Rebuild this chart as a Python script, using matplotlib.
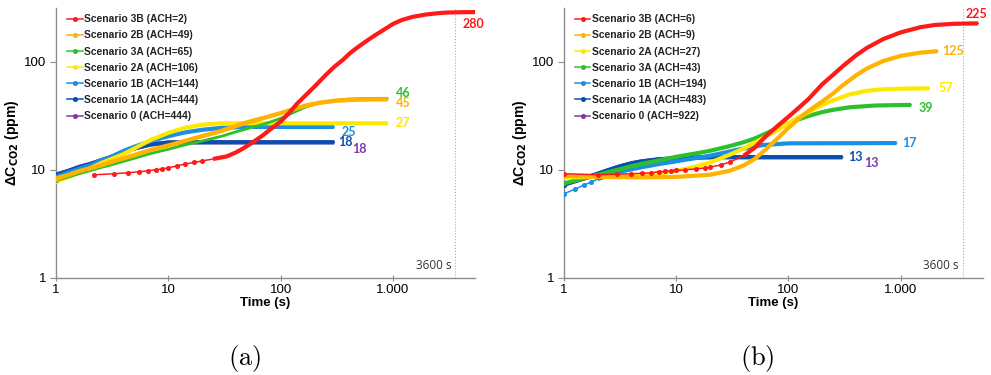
import matplotlib
matplotlib.use("Agg")
import matplotlib.pyplot as plt
import numpy as np

plt.rcParams['font.family'] = ['Liberation Sans', 'DejaVu Sans']

# ---------------- panel (a) ----------------
names_a = ["Scenario 3B (ACH=2)", "Scenario 2B (ACH=49)", "Scenario 3A (ACH=65)",
           "Scenario 2A (ACH=106)", "Scenario 1B (ACH=144)", "Scenario 1A (ACH=444)",
           "Scenario 0 (ACH=444)"]

t_3b_a = [2.2, 3.3, 4.4, 5.5, 6.6, 7.7, 8.8, 9.9, 12, 14, 17, 20, 25, 33, 40, 45, 52, 61, 70, 80,
          100, 120, 140, 170, 200, 250, 300, 360, 420, 500, 600, 700, 850, 1000, 1200, 1500,
          2000, 2500, 3000, 4000, 5400]
c_3b_a = [9.0, 9.2, 9.4, 9.6, 9.8, 10.0, 10.2, 10.4, 10.9, 11.3, 11.7, 12.1, 12.6, 13.3, 14.5,
          15.5, 17, 19, 21, 23.5, 28, 34, 41, 50, 59, 75, 90, 105, 122, 140, 160, 178, 202, 225,
          245, 262, 276, 283, 287, 289, 290]

t_2b_a = [1, 1.3, 1.6, 2, 2.5, 3, 4, 5, 7, 10, 14, 20, 30, 40, 50, 75, 100, 130, 170, 220, 300,
          400, 550, 700, 900]
c_2b_a = [8.3, 9.0, 9.7, 10.3, 11.0, 11.7, 12.8, 13.7, 15.3, 16.8, 18.5, 20.5, 23, 25.5, 27.5,
          30.8, 33.5, 36.5, 39.5, 41.8, 43.6, 44.5, 44.9, 45, 45]

t_3a_a = [1, 1.3, 1.6, 2, 2.5, 3, 4, 5, 7, 10, 14, 20, 30, 40, 50, 75, 100, 130, 170, 220, 300,
          400, 550, 700, 900]
c_3a_a = [8.0, 8.6, 9.2, 9.8, 10.5, 11.0, 12.0, 12.8, 14.2, 15.5, 17, 18.5, 20.5, 22.5, 24, 27,
          30, 34, 38.5, 41.5, 44, 45.2, 45.8, 46, 46]

t_2a_a = [1, 1.3, 1.6, 2, 2.5, 3, 4, 5, 7, 10, 14, 20, 30, 50, 100, 300, 900]
c_2a_a = [7.8, 8.6, 9.4, 10.3, 11.5, 12.4, 14, 15.8, 19.0, 22, 24.5, 26.2, 27, 27, 27, 27, 27]

t_1b_a = [1, 1.3, 1.6, 2, 2.5, 3, 4, 5, 7, 10, 14, 20, 30, 50, 100, 300]
c_1b_a = [8.6, 9.5, 10.2, 11, 12.2, 13, 15, 16.4, 18.5, 20.5, 22.2, 23.5, 24.5, 25, 25, 25]

t_1a_a = [1, 1.3, 1.6, 2, 2.5, 3, 4, 5, 7, 10, 14, 20, 50, 100, 300]
c_1a_a = [9.0, 9.8, 10.6, 11.3, 12.2, 13, 14.5, 15.8, 17.2, 17.9, 18, 18, 18, 18, 18]

t_0_a = [1, 1.3, 1.6, 2, 2.5, 3, 4, 5, 7, 10, 14, 20, 50, 100, 300]
c_0_a = [9.0, 9.8, 10.6, 11.3, 12.2, 13, 14.5, 15.8, 17.2, 17.9, 18, 18, 18, 18, 18]

end_labels_a = ["280", "45", "46", "27", "25", "18", "18"]

# ---------------- panel (b) ----------------
names_b = ["Scenario 3B (ACH=6)", "Scenario 2B (ACH=9)", "Scenario 2A (ACH=27)",
           "Scenario 3A (ACH=43)", "Scenario 1B (ACH=194)", "Scenario 1A (ACH=483)",
           "Scenario 0 (ACH=922)"]

t_3b_b = [1, 2, 3, 4, 5, 6, 7, 8, 9, 10, 12, 15, 18, 20, 25, 30, 40, 50, 63, 80, 100, 125, 150,
          200, 250, 300, 400, 500, 700, 1000, 1500, 2000, 3000, 4900]
c_3b_b = [9.2, 9.0, 9.1, 9.2, 9.3, 9.4, 9.6, 9.7, 9.8, 9.9, 10.0, 10.2, 10.4, 10.6, 11.1, 11.8,
          13.5, 16, 20.5, 25.5, 31, 38, 45, 62, 76, 90, 115, 135, 163, 188, 210, 220, 226, 228]

t_2b_b = [1, 2, 5, 10, 20, 30, 40, 50, 63, 78, 100, 125, 150, 200, 250, 300, 400, 500, 700,
          1000, 1500, 2140]
c_2b_b = [8.8, 8.6, 8.5, 8.6, 9.0, 9.8, 11, 12.6, 15.5, 19, 24.5, 30, 35, 43, 51, 60, 75, 87,
          102, 114, 122, 126]

t_2a_b = [1, 3, 5, 7, 10, 15, 20, 30, 39, 50, 78, 100, 125, 150, 200, 250, 350, 500, 700, 1000,
          1800]
c_2a_b = [8.5, 8.7, 8.9, 9.2, 9.8, 10.7, 11.7, 13.8, 15.6, 17.8, 23, 27, 31, 34, 40, 44, 50, 54,
          55.8, 56.5, 57]

t_3a_b = [1, 1.5, 2, 3, 4, 5, 7, 10, 15, 20, 30, 39, 50, 78, 100, 125, 150, 200, 250, 350, 600,
          1240]
c_3a_b = [7.5, 8.3, 9.0, 10, 10.8, 11.4, 12.2, 13.2, 14.2, 15, 16.6, 17.9, 19.5, 24, 27, 29.5,
          31.5, 34.3, 36, 38, 39.5, 40]

t_1b_b = [1, 1.25, 1.5, 1.75, 2, 3, 5, 7, 10, 20, 39, 60, 100, 920]
c_1b_b = [6.0, 6.6, 7.2, 7.7, 8.2, 9.5, 10.6, 11.3, 12, 13.5, 15.7, 17, 17.6, 17.7]

t_1a_b = [1, 1.5, 2, 3, 4, 5, 7, 10, 20, 303]
c_1a_b = [7.3, 8.3, 9.2, 10.6, 11.5, 12, 12.5, 12.8, 13.1, 13.1]

t_0_b = [1, 1.5, 2, 3, 4, 5, 7, 10, 20, 303]
c_0_b = [7.3, 8.3, 9.2, 10.6, 11.5, 12, 12.5, 12.8, 13.1, 13.1]

end_labels_b = ["225", "125", "57", "39", "17", "13", "13"]

# colours per scenario
c_red = "#ff1a1a"
c_orange = "#ffb300"
c_green = "#2cc12c"
c_yellow = "#ffe800"
c_lblue = "#1a8fe3"
c_dblue = "#0a4fb0"
c_purple = "#7a3aa8"

series_a = [(t_3b_a, c_3b_a), (t_2b_a, c_2b_a), (t_3a_a, c_3a_a), (t_2a_a, c_2a_a),
            (t_1b_a, c_1b_a), (t_1a_a, c_1a_a), (t_0_a, c_0_a)]
colors_a = [c_red, c_orange, c_green, c_yellow, c_lblue, c_dblue, c_purple]
# where the thin marked line becomes thick
thick_from_a = [22, 1, 1, 1, 1, 1, 1]
lw_a = [3, 3.2, 2, 3, 3, 3, 3]
# label offsets (pixels)
offs_a = [(-13, -12), (8, -4), (8, 5), (8, 0), (7, -5), (4, 0), (18, -7)]

series_b = [(t_3b_b, c_3b_b), (t_2b_b, c_2b_b), (t_2a_b, c_2a_b), (t_3a_b, c_3a_b),
            (t_1b_b, c_1b_b), (t_1a_b, c_1a_b), (t_0_b, c_0_b)]
colors_b = [c_red, c_orange, c_yellow, c_green, c_lblue, c_dblue, c_purple]
thick_from_b = [35, 1, 1, 1, 2, 1, 1]
lw_b = [3, 3, 3, 3, 3, 3, 3]
offs_b = [(-13, 9), (4, 0), (9, 0), (7, -3), (6, 0), (6, 0), (22, -6)]

fig = plt.figure(figsize=(9.91, 3.75), dpi=100)
ax_a = fig.add_axes([0.0565, 0.2595, 0.423, 0.719])
ax_b = fig.add_axes([0.569, 0.2595, 0.4228, 0.719])


def draw(ax, names, series, colors, thick_from, lws, labels, offs):
    handles = {}
    # purple (Scenario 0) first so it sits under the others, red on top
    for i in [6, 5, 4, 3, 2, 1, 0]:
        t, c = series[i]
        t = np.array(t, dtype=float)
        c = np.array(c, dtype=float)
        z = 4 - i * 0.1
        m = t >= thick_from[i]
        h, = ax.plot(t, c, color=colors[i], lw=1.1, marker='o', ms=2.6,
                     markevery=list(~m | (t == t[0])), zorder=z)
        ax.plot(t[m], c[m], color=colors[i], lw=lws[i], solid_capstyle='butt',
                solid_joinstyle='round', zorder=z)
        handles[i] = h
        ax.annotate(labels[i], xy=(t[-1], c[-1]), xytext=offs[i], textcoords='offset pixels',
                    ha='left', va='center', color=colors[i], fontsize=9, fontweight='bold',
                    family=['Lato', 'DejaVu Sans'])
    legend = ax.legend([handles[i] for i in range(7)], names, loc='upper left',
                       bbox_to_anchor=(0.012, 1.0), frameon=False, fontsize=7.4,
                       handlelength=1.5, handletextpad=0.15, labelspacing=0.6,
                       borderaxespad=0.2)
    for txt in legend.get_texts():
        txt.set_fontweight('bold')
        txt.set_color('#222222')

    ax.set_xscale('log')
    ax.set_yscale('log')
    ax.set_xlim(1, 5400)
    ax.set_ylim(1, 316)
    ax.set_xticks([1, 10, 100, 1000])
    ax.set_xticklabels(['1', '10', '100', '1.000'])
    ax.set_yticks([1, 10, 100])
    ax.set_yticklabels(['1', '10', '100'])
    ax.minorticks_off()
    for side in ['top', 'right']:
        ax.spines[side].set_visible(False)
    for side in ['left', 'bottom']:
        ax.spines[side].set_color('#8c8c8c')
        ax.spines[side].set_linewidth(1.0)
    ax.tick_params(axis='x', direction='inout', length=5, color='#8c8c8c', labelsize=9.5, pad=2)
    ax.tick_params(axis='y', direction='out', length=4, color='#8c8c8c', labelsize=9.5, pad=3)

    ax.axvline(3600, color='#aaaaaa', lw=0.8, ls=':', zorder=1)
    ax.text(3300, 1.12, '3600 s', ha='right', va='bottom', fontsize=8.5, color='#333333',
            family=['Open Sans', 'DejaVu Sans'])
    ax.set_xlabel('Time (s)', fontsize=9.5, fontweight='bold', labelpad=1)
    ax.set_ylabel('ΔC$_{\\mathbf{CO2}}$ (ppm)', fontsize=10, fontweight='bold', labelpad=2)


draw(ax_a, names_a, series_a, colors_a, thick_from_a, lw_a, end_labels_a, offs_a)
draw(ax_b, names_b, series_b, colors_b, thick_from_b, lw_b, end_labels_b, offs_b)

fig.text(0.247, 0.045, r'$(\mathrm{a})$', ha='center', va='center', fontsize=19, math_fontfamily='cm')
fig.text(0.764, 0.045, r'$(\mathrm{b})$', ha='center', va='center', fontsize=19, math_fontfamily='cm')

plt.savefig("out.png", dpi=100)
